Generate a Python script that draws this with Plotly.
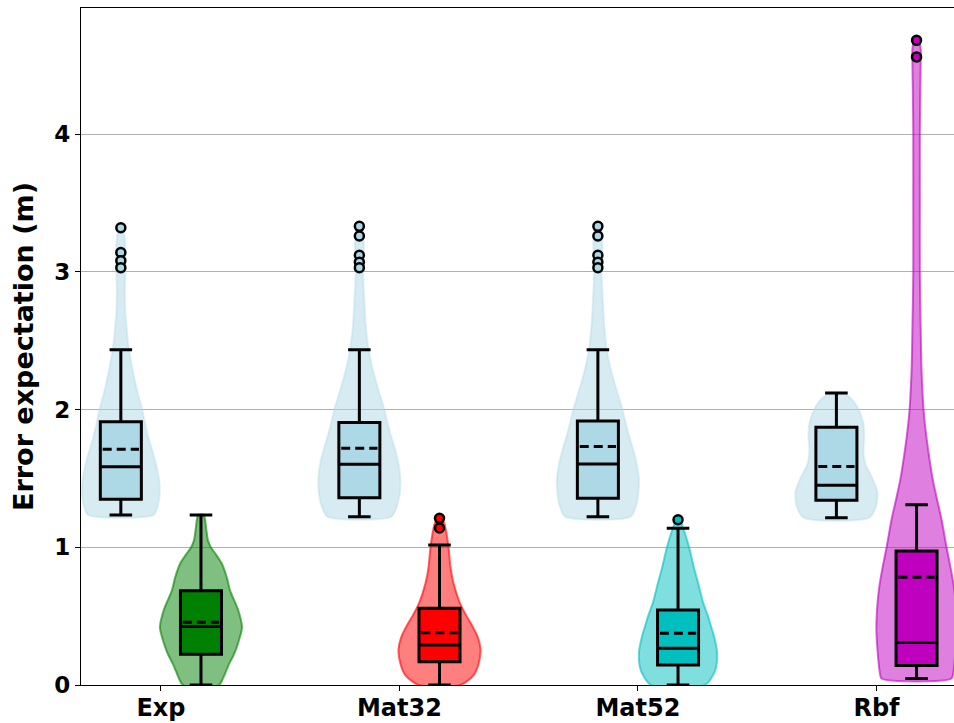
import plotly.graph_objects as go

# ---------------- data ----------------
categories = ["Exp", "Mat32", "Mat52", "Rbf"]

# light-blue (first) group: box statistics
blue_q1 = [1.348, 1.360, 1.356, 1.341]
blue_med = [1.585, 1.603, 1.605, 1.451]
blue_q3 = [1.912, 1.905, 1.917, 1.871]
blue_mean = [1.711, 1.719, 1.731, 1.587]
blue_lo = [1.235, 1.222, 1.222, 1.215]
blue_hi = [2.433, 2.433, 2.433, 2.120]
blue_out = [[3.32, 3.14, 3.08, 3.03],
            [3.33, 3.26, 3.12, 3.07, 3.03],
            [3.33, 3.26, 3.12, 3.07, 3.03],
            []]

# coloured (second) group: box statistics
col_q1 = [0.223, 0.169, 0.145, 0.142]
col_med = [0.424, 0.290, 0.266, 0.309]
col_q3 = [0.685, 0.557, 0.545, 0.972]
col_mean = [0.455, 0.380, 0.375, 0.782]
col_lo = [0.000, 0.000, 0.000, 0.047]
col_hi = [1.235, 1.017, 1.138, 1.309]
col_out = [[], [1.21, 1.14], [1.20], [4.68, 4.56]]

# violin density profiles (value levels and relative density, max = 1)
exp_blue_y = [1.235, 1.3, 1.4, 1.5, 1.6, 1.7, 1.8, 1.9, 2.0, 2.1, 2.2, 2.3, 2.4, 2.5, 2.6, 2.7, 2.8, 2.9, 3.0, 3.1, 3.2, 3.28, 3.32]
exp_blue_d = [0.80, 0.90, 0.95, 0.93, 0.86, 0.77, 0.67, 0.59, 0.52, 0.43, 0.35, 0.28, 0.22, 0.17, 0.14, 0.11, 0.10, 0.10, 0.11, 0.12, 0.11, 0.08, 0.04]
mat32_blue_y = [1.222, 1.3, 1.4, 1.5, 1.6, 1.7, 1.8, 1.9, 2.0, 2.1, 2.2, 2.3, 2.43, 2.6, 2.8, 3.0, 3.1, 3.2, 3.3, 3.33]
mat32_blue_d = [0.78, 0.92, 0.99, 1.00, 0.96, 0.88, 0.78, 0.69, 0.61, 0.51, 0.41, 0.32, 0.23, 0.16, 0.12, 0.09, 0.10, 0.11, 0.08, 0.04]
mat52_blue_y = [1.222, 1.3, 1.4, 1.5, 1.6, 1.7, 1.8, 1.9, 2.0, 2.1, 2.2, 2.3, 2.43, 2.6, 2.8, 3.0, 3.1, 3.2, 3.3, 3.33]
mat52_blue_d = [0.80, 0.93, 0.99, 1.00, 0.95, 0.87, 0.77, 0.68, 0.60, 0.50, 0.40, 0.31, 0.22, 0.16, 0.12, 0.09, 0.10, 0.11, 0.08, 0.04]
rbf_blue_y = [1.215, 1.3, 1.4, 1.5, 1.6, 1.7, 1.8, 1.9, 2.0, 2.06, 2.1, 2.12]
rbf_blue_d = [0.80, 0.97, 1.00, 0.88, 0.71, 0.66, 0.68, 0.66, 0.54, 0.42, 0.28, 0.12]

exp_col_y = [0.0, 0.05, 0.15, 0.22, 0.3, 0.42, 0.55, 0.685, 0.78, 0.88, 0.95, 1.0, 1.05, 1.13, 1.2, 1.235]
exp_col_d = [0.44, 0.54, 0.68, 0.80, 0.90, 1.00, 0.90, 0.71, 0.63, 0.51, 0.36, 0.24, 0.17, 0.13, 0.10, 0.07]
mat32_col_y = [0.0, 0.07, 0.15, 0.26, 0.35, 0.45, 0.5, 0.6, 0.74, 0.85, 1.0, 1.1, 1.17, 1.21]
mat32_col_d = [0.51, 0.83, 0.95, 1.00, 0.93, 0.76, 0.66, 0.49, 0.34, 0.27, 0.22, 0.17, 0.12, 0.05]
mat52_col_y = [0.0, 0.07, 0.13, 0.24, 0.35, 0.45, 0.5, 0.6, 0.74, 0.85, 1.0, 1.1, 1.16, 1.2]
mat52_col_d = [0.66, 0.85, 0.93, 0.95, 0.88, 0.78, 0.73, 0.61, 0.49, 0.39, 0.27, 0.17, 0.10, 0.05]
rbf_col_y = [0.047, 0.1, 0.25, 0.41, 0.6, 0.73, 0.85, 1.0, 1.2, 1.36, 1.5, 1.67, 1.85, 2.0, 2.3, 2.6, 3.0, 3.5, 4.0, 4.3, 4.5, 4.62, 4.68]
rbf_col_d = [0.85, 0.90, 0.95, 0.98, 0.95, 0.90, 0.83, 0.73, 0.61, 0.49, 0.39, 0.30, 0.22, 0.17, 0.12, 0.10, 0.08, 0.08, 0.08, 0.09, 0.10, 0.10, 0.05]

# ---------------- styling ----------------
offset = 0.168          # horizontal shift of each group from the category tick
box_w = 0.172           # box width (data units)
violin_hw = 0.172       # half width of a violin at maximal density
x_range = [-0.335, 3.325]
y_range = [0, 4.915]
blue_rgb = (173, 216, 230)
col_rgbs = [(0, 128, 0), (255, 0, 0), (0, 191, 191), (191, 0, 191)]

blue_prof = [(exp_blue_y, exp_blue_d), (mat32_blue_y, mat32_blue_d),
             (mat52_blue_y, mat52_blue_d), (rbf_blue_y, rbf_blue_d)]
col_prof = [(exp_col_y, exp_col_d), (mat32_col_y, mat32_col_d),
            (mat52_col_y, mat52_col_d), (rbf_col_y, rbf_col_d)]


def rgba(c, a):
    return f"rgba({c[0]},{c[1]},{c[2]},{a})"


def rgb(c):
    return f"rgb({c[0]},{c[1]},{c[2]})"


fig = go.Figure()


def add_violin(center, ys, ds, c):
    xs = [center - violin_hw * d for d in ds] + [center + violin_hw * d for d in reversed(ds)]
    yy = list(ys) + list(reversed(ys))
    xs.append(xs[0])
    yy.append(yy[0])
    edge_a = 0.35 if c == blue_rgb else 0.6
    fig.add_trace(go.Scatter(
        x=xs, y=yy, mode="lines", fill="toself",
        fillcolor=rgba(c, 0.5),
        line=dict(color=rgba(c, edge_a), width=2, shape="spline", smoothing=0.7),
        hoverinfo="skip", showlegend=False, xaxis="x", yaxis="y"))


def add_box(center, q1, med, q3, mean, lo, hi, c):
    fig.add_trace(go.Box(
        x=[center], q1=[q1], median=[med], q3=[q3],
        lowerfence=[lo], upperfence=[hi], boxpoints=False,
        width=box_w, whiskerwidth=0.55,
        fillcolor=rgb(c), line=dict(color="black", width=3),
        showlegend=False, xaxis="x2", yaxis="y2"))
    # dashed mean line across the box
    fig.add_trace(go.Scatter(
        x=[center - box_w / 2 + 0.01, center + box_w / 2 - 0.01], y=[mean, mean],
        mode="lines", line=dict(color="black", width=3, dash="9px,5px"),
        showlegend=False, hoverinfo="skip", xaxis="x2", yaxis="y2"))


def add_outliers(center, vals, c):
    if not vals:
        return
    fig.add_trace(go.Scatter(
        x=[center] * len(vals), y=vals, mode="markers",
        marker=dict(symbol="circle", size=9, color=rgb(c),
                    line=dict(color="black", width=2.5)),
        showlegend=False, hoverinfo="skip", xaxis="x2", yaxis="y2"))


for i in range(len(categories)):
    add_violin(i - offset, blue_prof[i][0], blue_prof[i][1], blue_rgb)
    add_violin(i + offset, col_prof[i][0], col_prof[i][1], col_rgbs[i])

for i in range(len(categories)):
    add_box(i - offset, blue_q1[i], blue_med[i], blue_q3[i], blue_mean[i], blue_lo[i], blue_hi[i], blue_rgb)
    add_box(i + offset, col_q1[i], col_med[i], col_q3[i], col_mean[i], col_lo[i], col_hi[i], col_rgbs[i])

for i in range(len(categories)):
    add_outliers(i - offset, blue_out[i], blue_rgb)
    add_outliers(i + offset, col_out[i], col_rgbs[i])

font_fam = "DejaVu Sans"
fig.update_layout(
    width=954, height=723,
    margin=dict(l=81, r=0, t=8, b=38),
    paper_bgcolor="white", plot_bgcolor="white",
    boxmode="overlay",
    showlegend=False,
    font=dict(family=font_fam, color="black"),
    xaxis=dict(
        range=x_range, automargin=False,
        tickmode="array", tickvals=list(range(len(categories))), ticktext=categories,
        tickfont=dict(family=font_fam, size=24, color="black", weight="bold"),
        ticklabelstandoff=-4,
        showline=True, linecolor="black", linewidth=1.2, mirror=True,
        ticks="outside", ticklen=5, tickcolor="black",
        showgrid=False, zeroline=False,
    ),
    yaxis=dict(
        range=y_range, automargin=False,
        tickmode="array", tickvals=[0, 1, 2, 3, 4], ticktext=["0", "1", "2", "3", "4"],
        tickfont=dict(family=font_fam, size=23, color="black", weight="bold"),
        showline=True, linecolor="black", linewidth=1.2,
        ticks="outside", ticklen=5, tickcolor="black",
        showgrid=True, gridcolor="#b0b0b0", gridwidth=1, zeroline=False,
        title=dict(text="Error expectation (m)",
                   font=dict(family=font_fam, size=27, color="black", weight="bold"),
                   standoff=12),
    ),
    xaxis2=dict(range=x_range, overlaying="x", visible=False, showgrid=False, zeroline=False),
    yaxis2=dict(range=y_range, overlaying="y", visible=False, showgrid=False, zeroline=False),
)

fig.write_html("out.html")
